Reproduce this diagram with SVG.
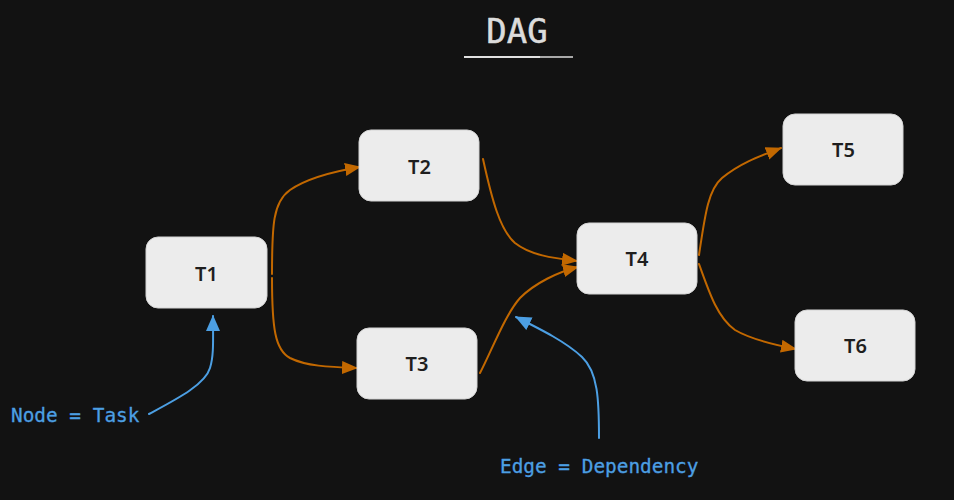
<svg xmlns="http://www.w3.org/2000/svg" width="954" height="500" viewBox="0 0 954 500">
<defs>
<style>
.node rect{fill:#ececec;stroke:#d4d4d4;stroke-width:1}
.node text{font-family:"Noto Sans","DejaVu Sans",sans-serif;font-size:20px;font-weight:600;fill:#1e1e1e;text-anchor:middle}
.edge{fill:none;stroke:#c26800;stroke-width:2;stroke-linecap:round}
.note{fill:none;stroke:#4c9fe3;stroke-width:2;stroke-linecap:round}
.label{font-family:"DejaVu Sans Mono","Liberation Mono",monospace;font-size:19.4px;fill:#4c9fe3;stroke:#4c9fe3;stroke-width:0.3}
</style>
<marker id="ah" markerUnits="userSpaceOnUse" markerWidth="16" markerHeight="14" refX="15" refY="6.5" orient="auto">
<path d="M0,0 L16,6.5 L0,13 z" fill="#c26800"/>
</marker>
<marker id="ahb" markerUnits="userSpaceOnUse" markerWidth="16" markerHeight="15" refX="15" refY="7" orient="auto">
<path d="M0,0 L16,7 L0,14 z" fill="#4c9fe3"/>
</marker>
</defs>
<rect width="954" height="500" fill="#121212"/>
<g id="title">
<text x="517" y="43" text-anchor="middle" font-family="DejaVu Sans Mono, Liberation Mono, monospace" font-size="34" fill="#dcdcdc" stroke="#dcdcdc" stroke-width="0.5">DAG</text>
<line x1="464" y1="57" x2="540" y2="57" stroke="#e0e0e0" stroke-width="2"/>
<line x1="540" y1="57" x2="573" y2="57" stroke="#a8a8a8" stroke-width="2"/>
</g>
<g id="connectors">
<path class="edge" marker-end="url(#ah)" d="M272,274 C272,225 273,202 290,190 C306,179 330,172 360,167"/>
<path class="edge" marker-end="url(#ah)" d="M272,278 C272,328 275,350 290,358 C306,366 328,367 357,368"/>
<path class="edge" marker-end="url(#ah)" d="M483,159 C492,200 500,230 515,243 C530,255 552,258 577,261"/>
<path class="edge" marker-end="url(#ah)" d="M480,373 C492,350 505,315 520,298 C535,283 558,272 578,267"/>
<path class="edge" marker-end="url(#ah)" d="M699,255 C705,215 708,190 722,178 C740,163 760,156 781,148"/>
<path class="edge" marker-end="url(#ah)" d="M699,264 C710,295 718,318 735,330 C752,340 775,345 796,349"/>
<path class="note" marker-end="url(#ahb)" d="M149,414 C175,400 205,385 210,368 C214,355 213,340 213,316"/>
<path class="note" marker-end="url(#ahb)" d="M599,438 C599,400 598,372 582,357 C566,342 542,330 516,317"/>
</g>
<g id="T1" class="node"><rect x="146" y="237" width="121" height="71" rx="12"/><text x="206.5" y="280.5">T1</text></g>
<g id="T2" class="node"><rect x="359" y="130" width="120" height="71" rx="12"/><text x="419.5" y="173.5">T2</text></g>
<g id="T3" class="node"><rect x="357" y="328" width="120" height="71" rx="12"/><text x="417" y="371">T3</text></g>
<g id="T4" class="node"><rect x="577" y="223" width="120" height="71" rx="12"/><text x="637" y="266">T4</text></g>
<g id="T5" class="node"><rect x="783" y="114" width="120" height="71" rx="12"/><text x="843.5" y="157">T5</text></g>
<g id="T6" class="node"><rect x="795" y="310" width="120" height="71" rx="12"/><text x="855.5" y="353">T6</text></g>
<g id="notes">
<text class="label" x="11" y="422">Node = Task</text>
<text class="label" x="500" y="473">Edge = Dependency</text>
</g>
</svg>
